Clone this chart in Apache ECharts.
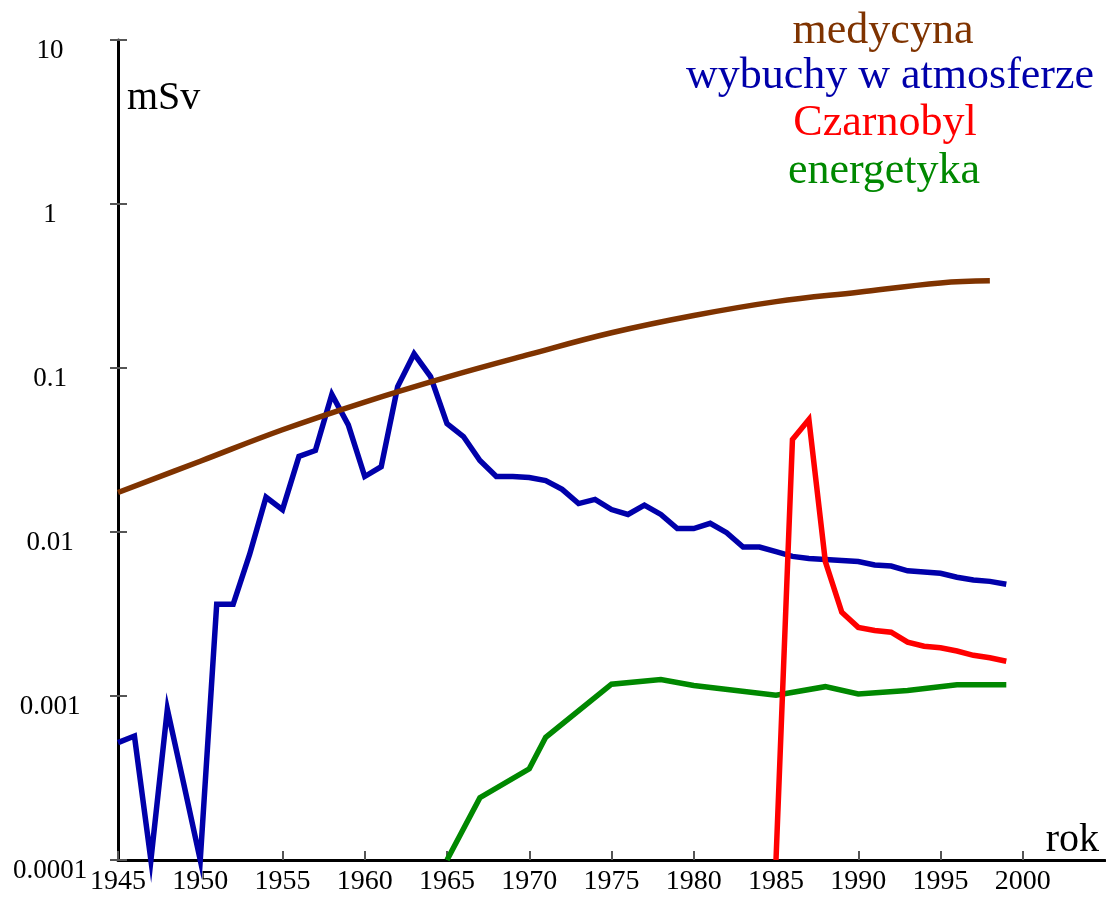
<!DOCTYPE html>
<html>
<head>
<meta charset="utf-8">
<script src="https://cdn.jsdelivr.net/npm/echarts@6/dist/echarts.min.js"></script>
<style>
html,body{margin:0;padding:0;background:#fff;}
#chart{width:1106px;height:900px;}
</style>
</head>
<body>
<div id="chart"></div>
<script>
// ---- data ----
const xTickYears = [1945,1950,1955,1960,1965,1970,1975,1980,1985,1990,1995,2000];
const yTickLabels = {"-4":"0.0001","-3":"0.001","-2":"0.01","-1":"0.1","0":"1","1":"10"};

const seriesNames = ["medycyna","wybuchy w atmosferze","Czarnobyl","energetyka"];
const seriesColors = ["#7f3300","#0000aa","#ff0000","#008800"];

// medycyna (medicine)
const medYears  = [1945,1950,1955,1960,1965,1970,1975,1980,1985,1990,1995,1998];
const medValues = [0.0174,0.027,0.042,0.062,0.088,0.121,0.164,0.209,0.254,0.29,0.33,0.34];

// wybuchy w atmosferze (atmospheric tests)
const testYears = [1945,1946,1947,1948,1949,1950,1951,1952,1953,1954,1955,1956,1957,1958,1959,1960,1961,1962,1963,1964,1965,1966,1967,1968,1969,1970,1971,1972,1973,1974,1975,1976,1977,1978,1979,1980,1981,1982,1983,1984,1985,1986,1987,1988,1989,1990,1991,1992,1993,1994,1995,1996,1997,1998,1999];
const testValues = [0.00052,0.00057,0.0001,0.00083,0.00029,0.0001,0.00362,0.00362,0.0073,0.0163,0.0137,0.0289,0.0314,0.069,0.045,0.0218,0.025,0.077,0.122,0.0887,0.0458,0.0382,0.0273,0.0218,0.0218,0.0215,0.0206,0.0182,0.0149,0.0158,0.0137,0.0128,0.0146,0.0128,0.0105,0.0105,0.0113,0.0099,0.0081,0.0081,0.0076,0.0071,0.0069,0.0068,0.0067,0.0066,0.0063,0.0062,0.0058,0.0057,0.0056,0.0053,0.0051,0.0050,0.0048];

// Czarnobyl (Chernobyl)
const chYears  = [1985,1986,1987,1988,1989,1990,1991,1992,1993,1994,1995,1996,1997,1998,1999];
const chValues = [0.0001,0.0366,0.0485,0.0066,0.00324,0.00262,0.00251,0.00245,0.00213,0.00201,0.00197,0.00188,0.00177,0.00171,0.00163];

// energetyka (nuclear power)
const enYears  = [1965,1967,1970,1971,1975,1978,1980,1985,1988,1990,1993,1996,1999];
const enValues = [0.0001,0.00024,0.00036,0.00056,0.00118,0.00126,0.00116,0.00101,0.00114,0.00103,0.00108,0.00117,0.00117];

const pair = (xs, ys) => xs.map((x, i) => [x, ys[i]]);

const FONT = '"Liberation Serif","Times New Roman",serif';

const chart = echarts.init(document.getElementById('chart'), null, {renderer: 'canvas'});

function lineSeries(idx, data, extra) {
  return Object.assign({
    type: 'line',
    name: seriesNames[idx],
    data: data,
    showSymbol: false,
    symbol: 'none',
    clip: false,
    animation: false,
    lineStyle: {color: seriesColors[idx], width: 5.5, join: 'miter', cap: 'butt'},
    itemStyle: {color: seriesColors[idx]},
    emphasis: {disabled: true}
  }, extra || {});
}

const legendX = [883, 890, 885, 884];
const legendBaseline = [45, 90, 137, 185];

const option = {
  animation: false,
  backgroundColor: '#ffffff',
  grid: {left: 118, right: 1, top: 40, bottom: 40, containLabel: false},
  xAxis: {
    type: 'value',
    min: 1945, max: 2005, interval: 5,
    axisLine: {show: true, lineStyle: {color: '#000', width: 3}},
    axisTick: {show: true, inside: true, length: 9, lineStyle: {color: '#555', width: 2}, customValues: xTickYears},
    axisLabel: {show: true, customValues: xTickYears, color: '#000', fontFamily: FONT, fontSize: 28, margin: 8,
      formatter: v => String(v)},
    splitLine: {show: false}
  },
  yAxis: [{
    type: 'log', logBase: 10, min: 0.0001, max: 10,
    axisLine: {show: true, lineStyle: {color: '#000', width: 3}},
    axisTick: {show: false},
    axisLabel: {show: true, color: '#000', fontFamily: FONT, fontSize: 27, margin: 68, align: 'center',
      verticalAlign: 'top', lineHeight: 22,
      formatter: v => yTickLabels[String(Math.round(Math.log10(v)))] || ''},
    splitLine: {show: false},
    minorTick: {show: false}
  }, {
    type: 'log', logBase: 10, min: 0.0001, max: 10, position: 'left', offset: -9,
    axisLine: {show: false},
    axisTick: {show: true, inside: false, length: 17, lineStyle: {color: '#555', width: 2}},
    axisLabel: {show: false},
    splitLine: {show: false}
  }],
  series: [
    lineSeries(1, pair(testYears, testValues), {z: 2}),
    lineSeries(0, pair(medYears, medValues), {smooth: 0.4, z: 3}),
    lineSeries(3, pair(enYears, enValues), {z: 4}),
    lineSeries(2, pair(chYears, chValues), {z: 5})
  ],
  graphic: [
    {type: 'text', left: 127, top: 78, z: 10, style: {text: 'mSv', font: '40px ' + FONT, fill: '#000'}},
    {type: 'text', right: 7, top: 820, z: 10, style: {text: 'rok', font: '40px ' + FONT, fill: '#000'}}
  ].concat(seriesNames.map((n, i) => ({
    type: 'text', x: legendX[i], y: legendBaseline[i] - 14, z: 10,
    style: {text: n, font: '44px ' + FONT, fill: seriesColors[i], align: 'center', verticalAlign: 'middle'}
  })))
};

chart.setOption(option);
</script>
</body>
</html>
